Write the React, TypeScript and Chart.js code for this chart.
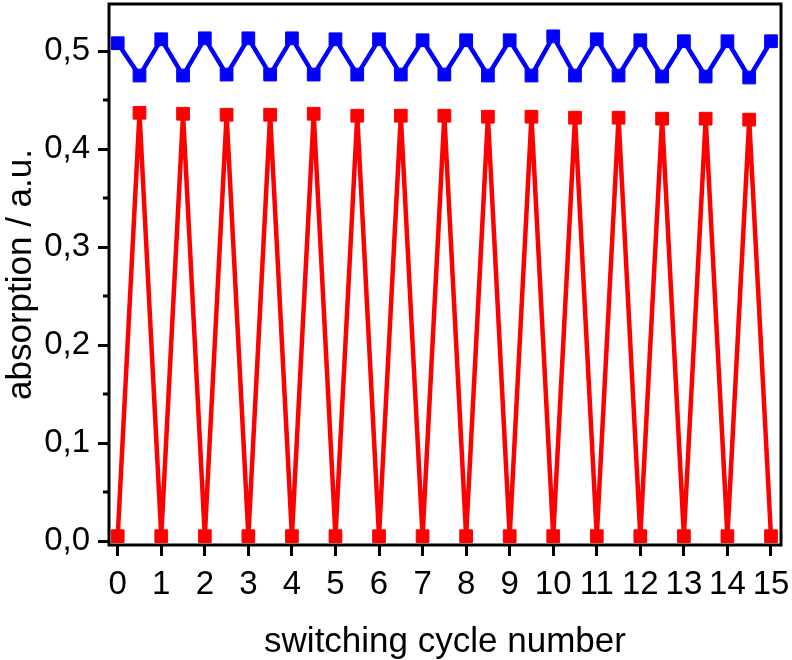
import React, { useEffect, useRef } from "react";
import { Chart, registerables } from "chart.js";

Chart.register(...registerables);

const cycleX = [0, 0.5, 1, 1.5, 2, 2.5, 3, 3.5, 4, 4.5, 5, 5.5, 6, 6.5, 7, 7.5, 8, 8.5, 9, 9.5, 10, 10.5, 11, 11.5, 12, 12.5, 13, 13.5, 14, 14.5, 15];
const redValues = [0.005, 0.437, 0.005, 0.436, 0.005, 0.435, 0.005, 0.435, 0.005, 0.436, 0.005, 0.434, 0.005, 0.434, 0.005, 0.434, 0.005, 0.433, 0.005, 0.433, 0.005, 0.432, 0.005, 0.432, 0.005, 0.431, 0.005, 0.431, 0.005, 0.430, 0.005];
const blueValues = [0.508, 0.475, 0.512, 0.475, 0.513, 0.476, 0.513, 0.476, 0.513, 0.476, 0.512, 0.476, 0.512, 0.476, 0.511, 0.476, 0.511, 0.475, 0.511, 0.475, 0.515, 0.475, 0.512, 0.475, 0.511, 0.474, 0.510, 0.474, 0.510, 0.473, 0.510];
const xTicks = [0, 1, 2, 3, 4, 5, 6, 7, 8, 9, 10, 11, 12, 13, 14, 15];
const yTicks = [0, 0.1, 0.2, 0.3, 0.4, 0.5];
const yMinorTicks = [0.05, 0.15, 0.25, 0.35, 0.45];
const xTitle = "switching cycle number";
const yTitle = "absorption / a.u.";

const FONT = "'Liberation Sans', Arial, sans-serif";

const framePlugin = {
  id: "frame",
  afterDraw(chart: any) {
    const { ctx, chartArea } = chart;
    const y = chart.scales.y;
    ctx.save();
    ctx.strokeStyle = "#000";
    ctx.lineWidth = 3;
    ctx.beginPath();
    for (const v of yMinorTicks) {
      const py = Math.round(y.getPixelForValue(v));
      ctx.moveTo(chartArea.left, py);
      ctx.lineTo(chartArea.left - 6, py);
    }
    ctx.stroke();
    ctx.strokeRect(chartArea.left, chartArea.top, chartArea.right - chartArea.left, chartArea.bottom - chartArea.top);
    ctx.restore();
  },
};

export default function App() {
  const ref = useRef<HTMLCanvasElement | null>(null);
  useEffect(() => {
    document.body.style.margin = "0";
    const mk = (vals: number[]) => cycleX.map((x, i) => ({ x, y: vals[i] }));
    const ds = (vals: number[], color: string) => ({
      data: mk(vals),
      borderColor: color,
      backgroundColor: color,
      borderWidth: 4.5,
      pointStyle: "rect",
      pointRadius: 9,
      pointBorderWidth: 1,
      tension: 0,
    });
    const chart = new Chart(ref.current as HTMLCanvasElement, {
      type: "line",
      data: {
        datasets: [ds(redValues, "#ff0000"), ds(blueValues, "#0000ff")],
      },
      options: {
        responsive: false,
        animation: false,
        layout: { autoPadding: false, padding: { top: 4, right: 11, left: 0, bottom: 0 } },
        plugins: { legend: { display: false }, tooltip: { enabled: false } },
        scales: {
          x: {
            type: "linear",
            min: -0.2,
            max: 15.23,
            afterBuildTicks: (s: any) => {
              s.ticks = xTicks.map((v) => ({ value: v }));
            },
            afterFit: (s: any) => {
              s.height = 115;
              s.paddingLeft = 0;
              s.paddingRight = 0;
            },
            border: { display: false },
            grid: { drawOnChartArea: false, drawTicks: true, tickLength: 11, tickWidth: 3, tickColor: "#000" },
            ticks: {
              color: "#000",
              font: { family: FONT, size: 33 },
              padding: 9,
              maxRotation: 0,
              autoSkip: false,
              callback: (v: any) => String(v),
            },
            title: {
              display: true,
              text: xTitle,
              color: "#000",
              font: { family: FONT, size: 35, lineHeight: 1 },
              padding: { top: 0, bottom: 0 },
            },
          },
          y: {
            type: "linear",
            min: -0.004,
            max: 0.548,
            afterBuildTicks: (s: any) => {
              s.ticks = yTicks.map((v) => ({ value: v }));
            },
            afterFit: (s: any) => {
              s.width = 109;
              s.paddingTop = 0;
              s.paddingBottom = 0;
            },
            border: { display: false },
            grid: { drawOnChartArea: false, drawTicks: true, tickLength: 11, tickWidth: 3, tickColor: "#000" },
            ticks: {
              color: "#000",
              font: { family: FONT, size: 33 },
              padding: 8,
              callback: (v: any) => Number(v).toFixed(1).replace(".", ","),
            },
            title: {
              display: true,
              text: yTitle,
              color: "#000",
              font: { family: FONT, size: 35 },
              padding: { top: 0, bottom: 0 },
            },
          },
        },
      },
      plugins: [framePlugin],
    } as any);
    return () => chart.destroy();
  }, []);
  return (
    <div style={{ position: "absolute", left: 0, top: 0, width: 792, height: 660 }}>
      <canvas ref={ref} width={792} height={660} />
    </div>
  );
}
